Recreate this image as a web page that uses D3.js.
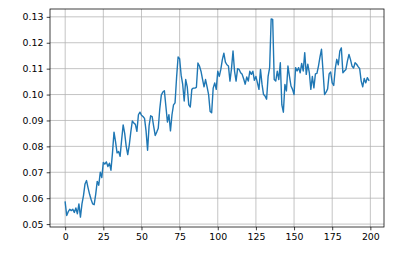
<!DOCTYPE html>
<html>
<head>
<meta charset="utf-8">
<script src="https://cdn.jsdelivr.net/npm/d3@7"></script>
<style>
  body { margin: 0; background: #fff; }
  svg { display: block; }
  .tick text { font-family: "DejaVu Sans", sans-serif; font-size: 9.4px; fill: #000; }
</style>
</head>
<body>
<script>
// series, one value per step 0..199
var values = [
  0.0585,0.0533,0.0548,0.0557,0.0552,0.0557,0.0545,0.0562,0.0540,0.0578,
  0.0527,0.0578,0.0610,0.0655,0.0668,0.0640,0.0615,0.0595,0.0578,0.0575,
  0.0615,0.0665,0.0650,0.0700,0.0680,0.0738,0.0732,0.0740,0.0722,0.0735,
  0.0708,0.0775,0.0855,0.0818,0.0775,0.0780,0.0762,0.0825,0.0883,0.0850,
  0.0800,0.0768,0.0805,0.0855,0.0898,0.0890,0.0885,0.0858,0.0922,0.0932,
  0.0920,0.0915,0.0908,0.0860,0.0785,0.0880,0.0918,0.0915,0.0877,0.0842,
  0.0855,0.0870,0.0945,0.0998,0.1010,0.1015,0.0955,0.0894,0.0922,0.0860,
  0.0922,0.0960,0.0968,0.1065,0.1145,0.1138,0.1075,0.1040,0.0975,0.1058,
  0.1030,0.0960,0.0952,0.1020,0.1025,0.1025,0.1028,0.1122,0.1110,0.1090,
  0.1060,0.1030,0.1058,0.1030,0.1000,0.0935,0.0930,0.1025,0.1045,0.1020,
  0.1090,0.1070,0.1097,0.1135,0.1160,0.1125,0.1115,0.1110,0.1052,0.1100,
  0.1168,0.1090,0.1052,0.1100,0.1097,0.1084,0.1078,0.1060,0.1040,0.1068,
  0.1052,0.1090,0.1078,0.1090,0.1055,0.1070,0.1045,0.1020,0.1097,0.1040,
  0.1000,0.0994,0.0982,0.1070,0.1104,0.1292,0.1290,0.1058,0.1052,0.1090,
  0.1058,0.1123,0.0960,0.0932,0.1039,0.1014,0.1110,0.1070,0.1033,0.1020,
  0.1000,0.1104,0.1091,0.1104,0.1084,0.1120,0.1091,0.1162,0.1078,0.1117,
  0.1085,0.1020,0.1070,0.1026,0.1080,0.1082,0.1110,0.1145,0.1175,0.1090,
  0.1000,0.1009,0.1022,0.1080,0.1087,0.1045,0.1035,0.1100,0.1136,0.1115,
  0.1168,0.1180,0.1084,0.1091,0.1097,0.1130,0.1155,0.1135,0.1110,0.1102,
  0.1123,0.1117,0.1108,0.1100,0.1052,0.1030,0.1062,0.1045,0.1065,0.1055
];
var xTicks = [0, 25, 50, 75, 100, 125, 150, 175, 200];
var yTicks = [0.05, 0.06, 0.07, 0.08, 0.09, 0.10, 0.11, 0.12, 0.13];

var width = 406, height = 255;
var plot = { left: 50, right: 384, top: 9, bottom: 227 };

var svg = d3.select('body').append('svg')
  .attr('width', width)
  .attr('height', height);

// matplotlib style 5% margins around the data
var n = values.length;
var xpad = (n - 1) * 0.05;
var ymin = d3.min(values), ymax = d3.max(values);
var ypad = (ymax - ymin) * 0.05;

var x = d3.scaleLinear().domain([-xpad, n - 1 + xpad]).range([plot.left, plot.right]);
var y = d3.scaleLinear().domain([ymin - ypad, ymax + ypad]).range([plot.bottom, plot.top]);

// grid
var grid = svg.append('g').attr('class', 'grid')
  .attr('stroke', '#b0b0b0').attr('stroke-width', 0.75);
grid.selectAll('line.gx').data(xTicks).enter().append('line')
  .attr('x1', function(d) { return x(d); }).attr('x2', function(d) { return x(d); })
  .attr('y1', plot.top).attr('y2', plot.bottom);
grid.selectAll('line.gy').data(yTicks).enter().append('line')
  .attr('x1', plot.left).attr('x2', plot.right)
  .attr('y1', function(d) { return y(d); }).attr('y2', function(d) { return y(d); });

// the line
var line = d3.line()
  .x(function(d, i) { return x(i); })
  .y(function(d) { return y(d); });

svg.append('path')
  .datum(values)
  .attr('fill', 'none')
  .attr('stroke', '#1f77b4')
  .attr('stroke-width', 1.4)
  .attr('stroke-linejoin', 'round')
  .attr('stroke-linecap', 'square')
  .attr('d', line);

// axes
var xAxis = d3.axisBottom(x).tickValues(xTicks).tickSize(3.3).tickPadding(3.3).tickFormat(d3.format('d'));
var yAxis = d3.axisLeft(y).tickValues(yTicks).tickSize(3.3).tickPadding(3.3).tickFormat(d3.format('.2f'));

var gx = svg.append('g').attr('transform', 'translate(0,' + plot.bottom + ')').call(xAxis);
var gy = svg.append('g').attr('transform', 'translate(' + plot.left + ',0)').call(yAxis);
[gx, gy].forEach(function(g) {
  g.select('.domain').remove();
  g.selectAll('.tick line').attr('stroke', '#000').attr('stroke-width', 0.75);
});

// frame
svg.append('rect')
  .attr('x', plot.left).attr('y', plot.top)
  .attr('width', plot.right - plot.left).attr('height', plot.bottom - plot.top)
  .attr('fill', 'none').attr('stroke', '#000').attr('stroke-width', 0.75);
</script>
</body>
</html>
